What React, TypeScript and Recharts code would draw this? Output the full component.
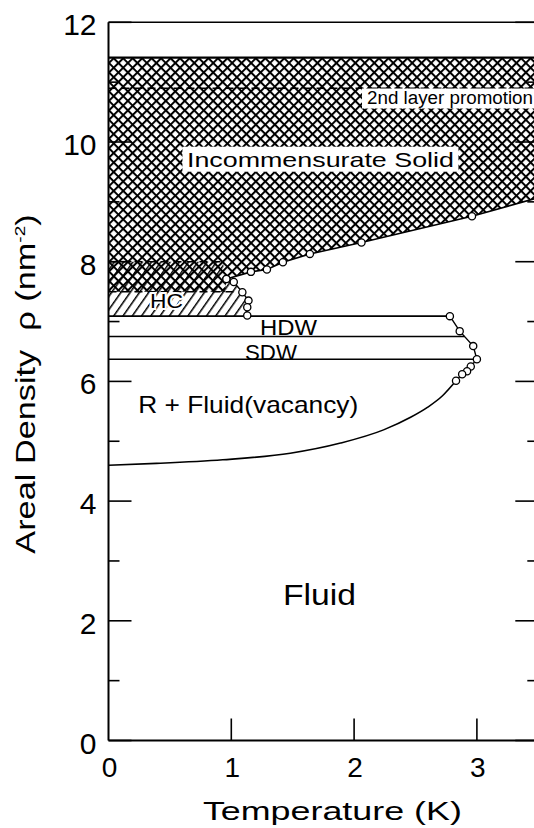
import React from "react"
import {
  ComposedChart,
  Area,
  Line,
  XAxis,
  YAxis,
  ReferenceLine,
  ReferenceDot,
} from "recharts"

// axis ticks: temperature (K) and areal density (nm^-2)
const tTicks = [0, 1, 2, 3]
const rhoTicks = [0, 1, 2, 3, 4, 5, 6, 7, 8, 9, 10, 11, 12]

// top of the solid region and 2nd layer promotion density
const solidTopRho = 11.41
const promotionRho = 10.9

// dashed lines inside the HC phase
const hcDashRho = [8.0, 7.5]
const hcDashEndT = [0.93, 1.05]

// incommensurate solid boundary (last point runs out to the frame, no marker)
const solidEdgeT = [0.96, 1.16, 1.29, 1.42, 1.64, 2.06, 2.96, 3.5]
const solidEdgeRho = [7.71, 7.83, 7.87, 7.99, 8.13, 8.32, 8.76, 9.07]

// HC phase boundary
const hcEdgeT = [0.96, 1.02, 1.09, 1.14, 1.13, 1.13]
const hcEdgeRho = [7.71, 7.66, 7.49, 7.35, 7.24, 7.1]

// HDW / SDW phase lines and their melting edge
const bandRho = [7.09, 6.75, 6.37]
const bandEndT = [2.78, 2.9, 3.0]
const dwEdgeT = [2.78, 2.86, 2.97, 3.0, 2.95, 2.92, 2.88, 2.83]
const dwEdgeRho = [7.09, 6.84, 6.59, 6.37, 6.25, 6.17, 6.12, 6.01]

// lower edge of the R + fluid coexistence region
const fluidEdgeT = [0, 0.39, 0.93, 1.48, 1.89, 2.24, 2.46, 2.6, 2.72, 2.83]
const fluidEdgeRho = [4.6, 4.63, 4.69, 4.8, 4.97, 5.19, 5.4, 5.57, 5.76, 6.01]

// phase names and where they sit (T, rho of the text baseline centre)
const labelText = ["Incommensurate Solid", "2nd layer promotion", "HC", "HDW", "SDW", "R + Fluid(vacancy)", "Fluid"]
const labelT = [1.726, 2.781, 0.472, 1.466, 1.323, 1.138, 1.718]
const labelRho = [9.587, 10.643, 7.226, 6.776, 6.358, 5.477, 2.264]

const pts = (ts: number[], rs: number[]) => ts.map((t, i) => ({ t, rho: rs[i] }))

const xhatchData = [
  { t: 0, rho: [hcDashRho[1], solidTopRho] },
  { t: solidEdgeT[0] - 0.01, rho: [hcDashRho[1], solidTopRho] },
  ...solidEdgeT.map((t, i) => ({ t, rho: [solidEdgeRho[i], solidTopRho] })),
]

const hcData = [
  { t: 0, rho: [bandRho[0], hcDashRho[0]] },
  { t: hcDashEndT[0], rho: [bandRho[0], hcDashRho[0]] },
  ...hcEdgeT.map((t, i) => ({ t, rho: [bandRho[0], hcEdgeRho[i]] })),
]

const font = '"Liberation Sans", Arial, Helvetica, sans-serif'

type TagStyle = { size: number; width: number; box?: [number, number, number, number]; halo?: boolean }

const tagStyles: TagStyle[] = [
  { size: 21, width: 267, box: [138, 138, 20, 5] },
  { size: 18, width: 166, box: [88, 92, 15, 5] },
  { size: 21, width: 33, halo: true },
  { size: 22, width: 57 },
  { size: 22, width: 52 },
  { size: 24, width: 220 },
  { size: 30, width: 73 },
]

const tag = (text: string, s: TagStyle) => (props: any) => {
  const vb = props.viewBox || {}
  const x = vb.x + (vb.width || 0) / 2
  const y = vb.y + (vb.height || 0) / 2
  return (
    <g>
      {s.box && (
        <rect
          x={x - s.box[0]}
          y={y - s.box[2]}
          width={s.box[0] + s.box[1]}
          height={s.box[2] + s.box[3]}
          fill="#fff"
        />
      )}
      <text
        x={x}
        y={y}
        textAnchor="middle"
        fontSize={s.size}
        textLength={s.width}
        lengthAdjust="spacingAndGlyphs"
        fill="#000"
        stroke={s.halo ? "#fff" : "none"}
        strokeWidth={s.halo ? 4 : 0}
        style={{ paintOrder: "stroke" }}
      >
        {text}
      </text>
    </g>
  )
}

const ring = (n: number) => (p: any) =>
  p.index < n ? (
    <circle key={p.index} cx={p.cx} cy={p.cy} r={3.6} fill="#fff" stroke="#000" strokeWidth={1.3} />
  ) : (
    <g key={p.index} />
  )

const LeftTick = (p: any) => {
  const v = p.payload.value
  const major = v % 2 === 0
  return (
    <g>
      <line x1={p.x} x2={p.x + (major ? 23 : 11)} y1={p.y} y2={p.y} stroke="#000" strokeWidth={1.6} />
      {major && (
        <text x={p.x - 12} y={p.y + 13} textAnchor="end" fontSize={30} fill="#000">
          {v}
        </text>
      )}
    </g>
  )
}

const RightTick = (p: any) => {
  const major = p.payload.value % 2 === 0
  return <line x1={p.x} x2={p.x - (major ? 23 : 11)} y1={p.y} y2={p.y} stroke="#000" strokeWidth={1.6} />
}

const BottomTick = (p: any) => {
  const v = p.payload.value
  return (
    <g>
      {v > 0 && <line x1={p.x} x2={p.x} y1={p.y} y2={p.y - 22} stroke="#000" strokeWidth={1.6} />}
      <text x={p.x + 1} y={p.y + 36} textAnchor="middle" fontSize={28} fill="#000">
        {v}
      </text>
    </g>
  )
}

const xTitle = (p: any) => {
  const vb = p.viewBox
  return (
    <text
      x={vb.x + vb.width / 2 + 9}
      y={vb.y + 79.5}
      textAnchor="middle"
      fontSize={25}
      textLength={259}
      lengthAdjust="spacingAndGlyphs"
      fill="#000"
    >
      Temperature (K)
    </text>
  )
}

const yTitle = (p: any) => {
  const vb = p.viewBox
  const bx = vb.x - 13.5
  const cy = vb.y + vb.height / 2 + 2.6
  return (
    <g transform={`translate(${bx},${cy}) rotate(-90) scale(1.27,1)`}>
      <text x={0} y={0} textAnchor="middle" fontSize={27} fill="#000" style={{ whiteSpace: "pre" }}>
        {"Areal Density  ρ (nm"}
        <tspan dy={-10} fontSize={15}>
          -2
        </tspan>
        <tspan dy={10}>)</tspan>
      </text>
    </g>
  )
}

const lineProps = {
  dataKey: "rho",
  stroke: "#000",
  dot: false,
  activeDot: false,
  isAnimationActive: false,
  legendType: "none" as const,
  type: "linear" as const,
}

export default function App() {
  return (
    <div
      style={{
        position: "absolute",
        left: 0,
        top: 0,
        width: 534,
        height: 828,
        overflow: "hidden",
        background: "#fff",
        fontFamily: font,
      }}
    >
      <ComposedChart
        width={560}
        height={830}
        margin={{ top: 22.3, right: 20.7, bottom: 29.5, left: 48.5 }}
      >
        <defs>
          <pattern id="xhatch" patternUnits="userSpaceOnUse" width={6.7} height={6.7} patternTransform="rotate(45)">
            <rect x={0} y={0} width={6.7} height={2} fill="#000" />
            <rect x={0} y={0} width={2} height={6.7} fill="#000" />
          </pattern>
          <pattern id="hatch" patternUnits="userSpaceOnUse" width={7.6} height={7.6} patternTransform="rotate(35)">
            <rect x={0} y={0} width={1.5} height={7.6} fill="#000" />
          </pattern>
        </defs>

        <XAxis
          dataKey="t"
          type="number"
          domain={[0, 3.5]}
          ticks={tTicks}
          interval={0}
          tickSize={0}
          tickMargin={0}
          tickLine={false}
          tick={BottomTick}
          height={60}
          axisLine={{ stroke: "#000", strokeWidth: 2 }}
          label={xTitle}
        />
        <YAxis
          type="number"
          domain={[0, 12]}
          ticks={rhoTicks}
          interval={0}
          tickSize={0}
          tickMargin={0}
          tickLine={false}
          tick={LeftTick}
          width={60}
          axisLine={{ stroke: "#000", strokeWidth: 2 }}
          label={yTitle}
        />
        <YAxis
          yAxisId="r"
          orientation="right"
          type="number"
          domain={[0, 12]}
          allowDataOverflow
          ticks={rhoTicks}
          interval={0}
          tickSize={0}
          tickMargin={0}
          tickLine={false}
          tick={RightTick}
          width={1}
          axisLine={{ stroke: "#000", strokeWidth: 2 }}
        />

        <Area
          data={xhatchData}
          dataKey="rho"
          type="linear"
          stroke="none"
          fill="url(#xhatch)"
          fillOpacity={1}
          isAnimationActive={false}
          activeDot={false}
          legendType="none"
        />
        <Area
          data={hcData}
          dataKey="rho"
          type="linear"
          stroke="none"
          fill="url(#hatch)"
          fillOpacity={1}
          isAnimationActive={false}
          activeDot={false}
          legendType="none"
        />

        <ReferenceLine y={12} stroke="#000" strokeWidth={1.6} />
        <Line {...lineProps} data={pts([0, 3.5], [solidTopRho, solidTopRho])} strokeWidth={2.4} />
        <Line {...lineProps} data={pts([0, 3.5], [promotionRho, promotionRho])} strokeWidth={1.5} strokeDasharray="8 5" />
        {/* same promotion line bound to the right frame axis so its scale is set */}
        <Line {...lineProps} yAxisId="r" data={pts([0, 3.5], [promotionRho, promotionRho])} stroke="none" />
        {hcDashRho.map((r, i) => (
          <Line key={`hd${i}`} {...lineProps} data={pts([0, hcDashEndT[i]], [r, r])} strokeWidth={1.5} strokeDasharray="8 5" />
        ))}
        {bandRho.map((r, i) => (
          <Line key={`b${i}`} {...lineProps} data={pts([0, bandEndT[i]], [r, r])} strokeWidth={1.6} />
        ))}

        <Line {...lineProps} type="monotone" data={pts(fluidEdgeT, fluidEdgeRho)} strokeWidth={1.6} />
        <Line {...lineProps} data={pts(solidEdgeT, solidEdgeRho)} strokeWidth={1.6} dot={ring(solidEdgeT.length - 1)} />
        <Line {...lineProps} data={pts(hcEdgeT, hcEdgeRho)} strokeWidth={1.4} dot={ring(hcEdgeT.length)} />
        <Line {...lineProps} data={pts(dwEdgeT, dwEdgeRho)} strokeWidth={1.4} dot={ring(dwEdgeT.length)} />

        {labelText.map((text, i) => (
          <ReferenceDot
            key={text}
            x={labelT[i]}
            y={labelRho[i]}
            r={0}
            fill="none"
            stroke="none"
            label={tag(text, tagStyles[i])}
          />
        ))}
      </ComposedChart>
    </div>
  )
}
